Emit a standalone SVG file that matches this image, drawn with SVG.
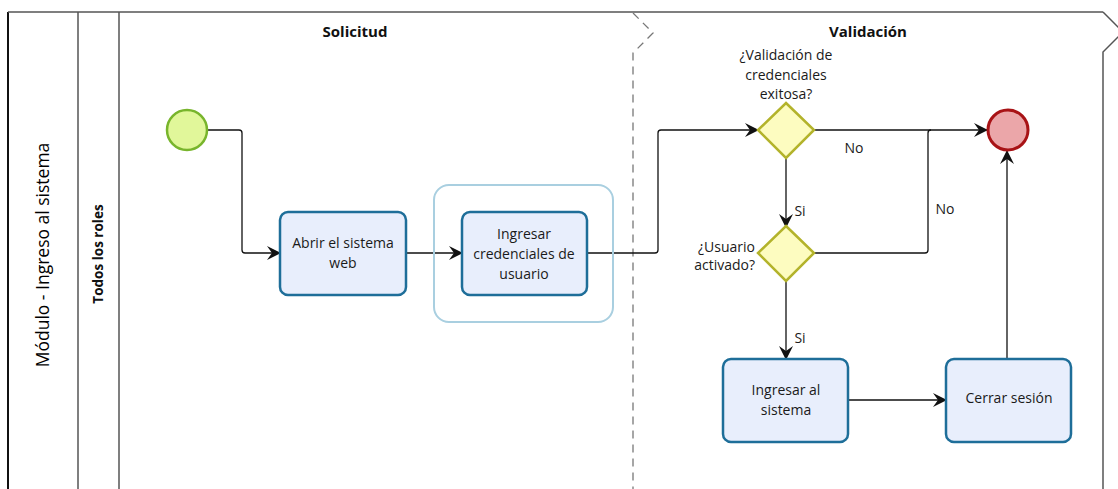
<svg xmlns="http://www.w3.org/2000/svg" width="1118" height="489" viewBox="0 0 1118 489">
<defs>
<style>
.frame{fill:none;stroke:#555;stroke-width:1.5}
.dash{fill:none;stroke:#777;stroke-width:1.3;stroke-dasharray:8,6}
.task{fill:#e8eefc;stroke:#1e6e99;stroke-width:2.5}
.gw{fill:#fdfcc0;stroke:#b3b32b;stroke-width:2.5}
.conn{fill:none;stroke:#111;stroke-width:1.3}
.t{font-family:"Open Sans","Noto Sans",sans-serif;font-size:14px;fill:#1a1a1a;text-anchor:middle}
.h{font-family:"Open Sans","Noto Sans",sans-serif;font-size:15px;font-weight:bold;fill:#111;text-anchor:middle}
</style>
<marker id="arr" viewBox="0 0 14 14" refX="13" refY="7" markerWidth="14" markerHeight="14" markerUnits="userSpaceOnUse" orient="auto">
<path d="M0,0 L14,7 L0,14 L5,7 Z" fill="#111"/>
</marker>
</defs>
<rect width="1118" height="489" fill="#fff"/>
<g id="pool">
<line x1="8" y1="12" x2="8" y2="489" stroke="#111" stroke-width="2"/>
<line x1="8" y1="12" x2="1103" y2="12" class="frame"/>
<line x1="78" y1="12" x2="78" y2="489" class="frame"/>
<line x1="119" y1="12" x2="119" y2="489" class="frame"/>
<path d="M1103,12 L1123,32 L1103,52 L1103,489" class="frame"/>
<path d="M633,13 L653,33 L633,53 L633,489" class="dash"/>
<text class="t" style="font-size:17.5px;fill:#000" transform="translate(49,255) rotate(-90)">Módulo - Ingreso al sistema</text>
<text class="h" style="font-size:13.5px" transform="translate(103,254) rotate(-90)">Todos los roles</text>
<text class="h" x="355" y="37">Solicitud</text>
<text class="h" x="868" y="37">Validación</text>
</g>
<g id="connectors">
<path d="M207,130 L239,130 Q242,130 242,133 L242,250 Q242,253 245,253 L280,253" class="conn" marker-end="url(#arr)"/>
<path d="M406,253 L462,253" class="conn" marker-end="url(#arr)"/>
<path d="M587,253 L655,253 Q658,253 658,250 L658,133 Q658,130 661,130 L758,130" class="conn" marker-end="url(#arr)"/>
<path d="M814,130 L987,130" class="conn" marker-end="url(#arr)"/>
<path d="M814,253 L925,253 Q928,253 928,250 L928,133 Q928,130 931,130" class="conn"/>
<path d="M786,158 L786,227" class="conn" marker-end="url(#arr)"/>
<path d="M786,281 L786,359" class="conn" marker-end="url(#arr)"/>
<path d="M848,400 L946,400" class="conn" marker-end="url(#arr)"/>
<path d="M1007,359 L1007,151" class="conn" marker-end="url(#arr)"/>
<text class="t" x="854" y="153">No</text>
<text class="t" x="945" y="214">No</text>
<text class="t" x="800" y="216">Si</text>
<text class="t" x="800" y="343">Si</text>
</g>
<g id="start"><circle cx="187" cy="130" r="20" fill="#e1f79a" stroke="#78b52c" stroke-width="2.5"/></g>
<g id="end"><circle cx="1008" cy="130" r="20" fill="#eba6a9" stroke="#a81316" stroke-width="3"/></g>
<g id="group"><rect x="434" y="185" width="179" height="137" rx="15" fill="none" stroke="#a9cfe0" stroke-width="2"/></g>
<g id="task-abrir">
<rect x="280" y="212" width="126" height="83" rx="8" class="task"/>
<text class="t" x="343" y="248">Abrir el sistema</text>
<text class="t" x="343" y="268">web</text>
</g>
<g id="task-credenciales">
<rect x="462" y="212" width="125" height="83" rx="8" class="task"/>
<text class="t" x="524" y="239">Ingresar</text>
<text class="t" x="524" y="259">credenciales de</text>
<text class="t" x="524" y="279">usuario</text>
</g>
<g id="gw-validacion">
<path d="M786,103 L814,130 L786,158 L758,130 Z" class="gw"/>
<text class="t" x="786" y="60">¿Validación de</text>
<text class="t" x="786" y="80">credenciales</text>
<text class="t" x="786" y="99">exitosa?</text>
</g>
<g id="gw-activado">
<path d="M786,226 L814,253 L786,281 L758,253 Z" class="gw"/>
<text class="t" x="755" y="252" style="text-anchor:end">¿Usuario</text>
<text class="t" x="755" y="270" style="text-anchor:end">activado?</text>
</g>
<g id="task-ingresar">
<rect x="723" y="359" width="125" height="83" rx="8" class="task"/>
<text class="t" x="786" y="395">Ingresar al</text>
<text class="t" x="786" y="415">sistema</text>
</g>
<g id="task-cerrar">
<rect x="946" y="359" width="125" height="83" rx="8" class="task"/>
<text class="t" x="1009" y="403">Cerrar sesión</text>
</g>
</svg>
